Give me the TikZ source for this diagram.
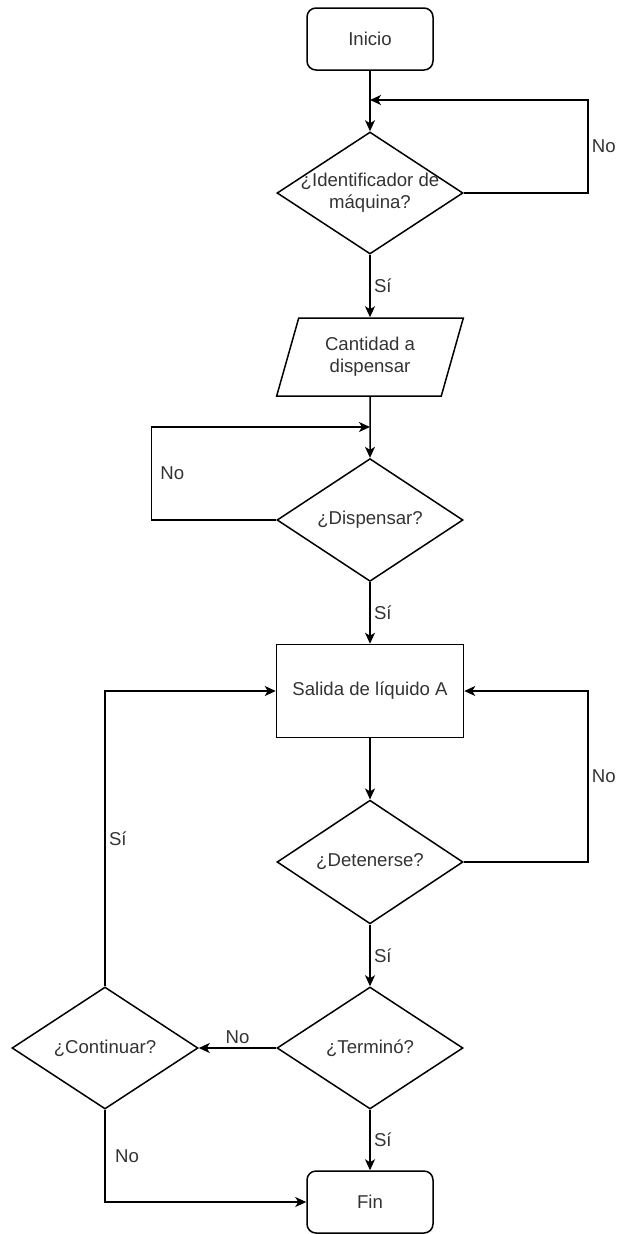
\documentclass[tikz,border=0pt]{standalone}
\usepackage{fontspec}
\setmainfont{Liberation Sans}
\usetikzlibrary{shapes.geometric,arrows.meta}
\definecolor{txtgray}{HTML}{333333}

\begin{document}
\begin{tikzpicture}[x=1pt,y=-1pt,line width=1.5pt,
    >={Stealth[length=11pt,width=10pt,inset=3pt]},
    every node/.style={font=\fontsize{18.6}{22}\selectfont,text=txtgray},
    startstop/.style={draw,rounded corners=9pt,minimum width=126pt,minimum height=62pt},
    decision/.style={draw,diamond,minimum width=186pt,minimum height=122pt,inner sep=0pt,align=center},
    io/.style={draw,trapezium,trapezium left angle=72,trapezium right angle=108,
      trapezium stretches=true,minimum width=187pt,minimum height=78pt,align=center},
    process/.style={draw,minimum width=187pt,minimum height=93pt}]
      \useasboundingbox (0,0) rectangle (616,1234);
      \node[startstop] (inicio) at (370,39) {Inicio};
      \node[decision] (ident) at (370,193) {\makebox[0pt]{¿Identificador de}\\\makebox[0pt]{máquina?}};
      \node[io] (cantidad) at (370,357) {Cantidad a\\dispensar};
      \node[decision] (dispensar) at (370,520) {¿Dispensar?};
      \node[process] (salida) at (370,691) {Salida de líquido A};
      \node[decision] (detener) at (370,862) {¿Detenerse?};
      \node[decision] (termino) at (370,1048) {¿Terminó?};
      \node[decision] (continuar) at (105,1048) {¿Continuar?};
      \node[startstop] (fin) at (370,1202) {Fin};
      \coordinate (m1) at (370,100);
      \coordinate (m2) at (370,427);
      \draw[->] (inicio) -- (ident);
      \draw[->] (ident.east) -- ++(124,0) |- (m1) node[pos=0.25,right] {No};
      \draw[->] (ident) -- (cantidad) node[midway,right] {Sí};
      \draw[->] (cantidad) -- (dispensar);
      \draw[->] (dispensar.west) -- ++(-125,0) |- (m2) node[pos=0.25,right=5pt] {No};
      \draw[->] (dispensar) -- (salida) node[midway,right] {Sí};
      \draw[->] (salida) -- (detener);
      \draw[->] (detener.east) -- ++(124,0) |- (salida.east) node[pos=0.25,right] {No};
      \draw[->] (detener) -- (termino) node[midway,right] {Sí};
      \draw[->] (termino) -- (continuar) node[midway,above] {No};
      \draw[->] (continuar) |- (salida.west) node[pos=0.25,right] {Sí};
      \draw[->] (continuar) |- (fin.west) node[pos=0.25,right=6pt] {No};
      \draw[->] (termino) -- (fin) node[midway,right] {Sí};
\end{tikzpicture}
\end{document}
